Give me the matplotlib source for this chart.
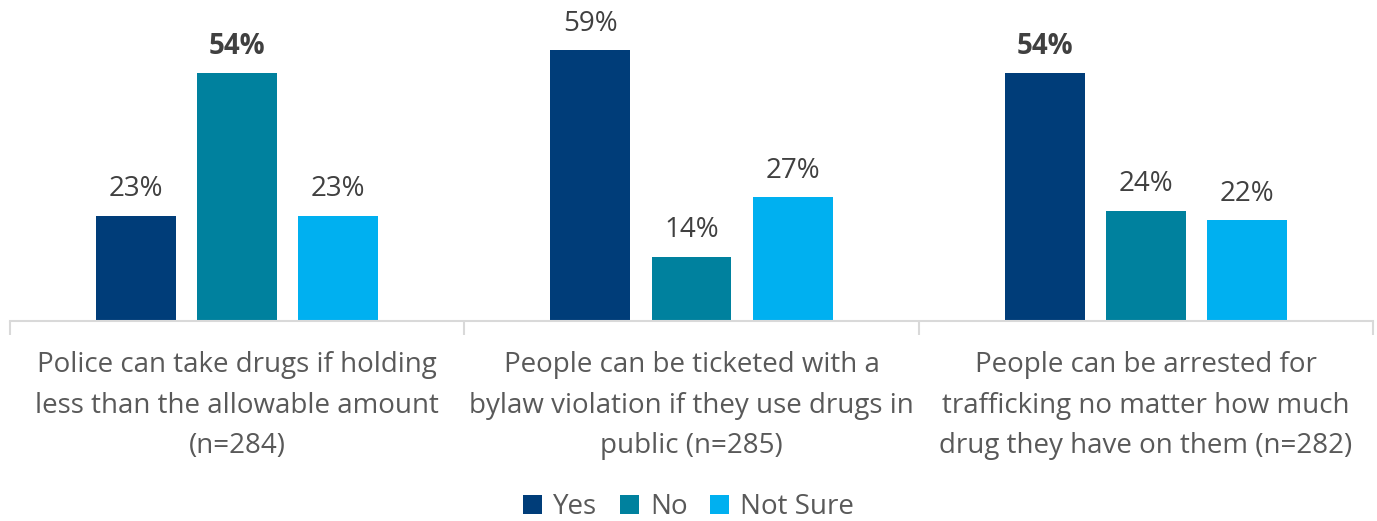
import matplotlib.pyplot as plt
import numpy as np

plt.rcParams['font.family'] = ['Open Sans', 'DejaVu Sans']

categories = ["Police can take drugs if holding\nless than the allowable amount\n(n=284)",
              "People can be ticketed with a\nbylaw violation if they use drugs in\npublic (n=285)",
              "People can be arrested for\ntrafficking no matter how much\ndrug they have on them (n=282)"]
series = ["Yes", "No", "Not Sure"]
yes = [23, 59, 54]
no = [54, 14, 24]
not_sure = [23, 27, 22]
# which labels are bold in the original
bold = [[False, True, False], [False, False, False], [True, False, False]]

colors = ["#003D79", "#00819E", "#00B0F0"]

fig = plt.figure(figsize=(13.77, 5.21), dpi=100)
ax = fig.add_axes([10/1377, 200/521, 1363/1377, 321/521])

x = np.arange(len(categories))
w = 0.176
step = 0.2225
for i, (name, vals, c) in enumerate(zip(series, [yes, no, not_sure], colors)):
    pos = x + (i - 1) * step
    bars = ax.bar(pos, vals, width=w, color=c, label=name)
    for j, (b, v) in enumerate(zip(bars, vals)):
        ax.annotate(f"{v}%", (b.get_x() + b.get_width() / 2, v),
                    xytext=(0, 9), textcoords="offset points",
                    ha="center", va="bottom", fontsize=20, color="#404040",
                    fontweight="bold" if bold[j][i] else "normal")

ax.set_xlim(-0.5, 2.5)
ax.set_ylim(0, 70)
ax.set_yticks([])
for s in ["top", "right", "left"]:
    ax.spines[s].set_visible(False)
ax.spines["bottom"].set_color("#D9D9D9")
ax.spines["bottom"].set_linewidth(1.5)

ax.set_xticks([-0.5, 0.5, 1.5, 2.5])
ax.set_xticklabels([])
ax.tick_params(axis="x", length=10, width=1.5, color="#D9D9D9")
for xi, cat in zip(x, categories):
    ax.text(xi, -0.094, cat, transform=ax.get_xaxis_transform(), ha="center", va="top",
            fontsize=20, color="#595959", linespacing=1.6)

fig.legend(loc="lower center", bbox_to_anchor=(0.5, -0.048), ncol=3, frameon=False,
           fontsize=20, labelcolor="#595959", handlelength=0.7, handleheight=0.7,
           handletextpad=0.4, columnspacing=0.8)

plt.savefig("out.png")
